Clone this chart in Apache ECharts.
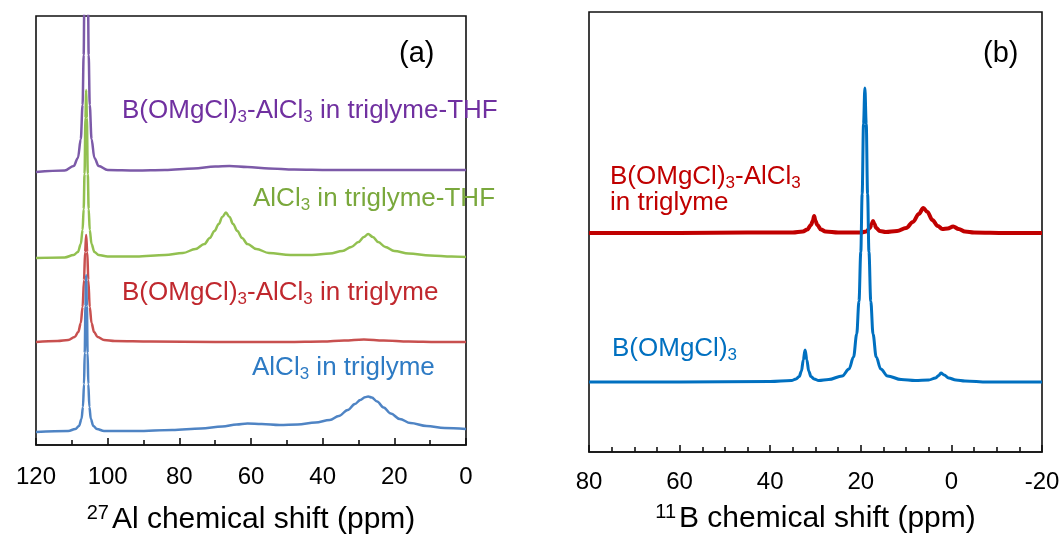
<!DOCTYPE html>
<html>
<head>
<meta charset="utf-8">
<script src="https://cdn.jsdelivr.net/npm/echarts@6/dist/echarts.min.js"></script>
<style>
  html, body { margin: 0; padding: 0; background: #fff; }
  #chart { width: 1062px; height: 537px; }
</style>
</head>
<body>
<div id="chart"></div>
<script>
// panel (a): 27Al spectra, [ppm, intensity incl. stacking offset]
const alPurple = [[120,273],[112,274.5],[109.5,279],[108.3,287],[107.5,306],[107,340],[106.7,390],[106.45,473],[106.2,606],[106,680],[105.8,606],[105.55,473],[105.3,390],[105,340],[104.5,306],[103.7,287],[102.5,279],[100,275],[92,274.5],[84,275],[76,276.5],[70,278.5],[66,279],[61,278],[55,276.5],[48,275.5],[38,275],[25,275],[12,275],[0,275]]
const alGreen = [[120,187],[112,187.5],[109.5,190],[108.3,193],[107.5,201],[107,215],[106.7,236],[106.45,271],[106.2,327],[106,355],[105.8,327],[105.55,271],[105.3,236],[105,215],[104.5,201],[103.7,193],[102.5,190],[100,188.5],[92,188.5],[84,190],[79,192],[75.5,196],[73,201],[71.5,207],[70.2,214],[69,221],[68,228],[67,232.5],[66,228],[65,221],[63.8,214],[62.5,207],[61,201],[58.5,196],[55,192],[49,190],[43,190],[38,191.5],[34.5,194],[32,198],[30,203],[28.5,208],[27.3,211],[26,208],[24.5,203],[22.5,198],[20,194],[16,191.5],[10,189.5],[4,188.5],[0,188]]
const alRed = [[120,103],[114,104],[111,105],[109.2,108],[108.2,113],[107.5,122],[107,138],[106.6,165],[106.3,193],[106,210],[105.7,193],[105.4,165],[105,138],[104.5,122],[103.8,113],[102.8,108],[101,105],[98,104],[88,103.5],[70,103],[50,103],[40,103.5],[34,104.5],[28.5,105.5],[23,104.5],[16,103.5],[8,103],[0,103]]
const alBlue = [[120,13],[111,14],[109,16],[108,19],[107.3,26],[106.9,38],[106.6,61],[106.4,92],[106.2,139],[106,170],[105.8,139],[105.6,92],[105.4,61],[105.1,38],[104.7,26],[104,19],[103,16],[101,14],[92,14],[82,15],[74,16.5],[68,18.5],[64,20.5],[61,21.5],[57,21],[52,20],[47,20.5],[42,22.5],[38,25],[35.5,29],[33,35],[31,41],[29.5,45],[28.2,47.8],[27.3,48.5],[26.3,47.5],[24.8,43.5],[23,37.5],[21,31.5],[18.5,26],[15.5,22],[11,19],[6,17],[0,16]]

// panel (b): 11B spectra
const bRed = [[80,219],[60,219],[45,219.5],[35,219.5],[32.8,220.5],[31.8,222.5],[31,227],[30.6,231],[30.3,236],[30,231],[29.6,227],[28.8,222.5],[27.8,220.5],[25,219.5],[20,219.5],[18.8,220.5],[18,224],[17.6,228],[17.3,231],[17,228],[16.6,224],[15.8,221],[14.5,220],[12,221],[10,224],[8.5,230],[7.2,238],[6.2,244],[5.3,240],[4.2,232],[3,226],[2,223],[0.8,223.5],[-0.4,225.5],[-1.6,223],[-3,220.5],[-5,219.5],[-12,219],[-20,219]]
const bBlue = [[80,70],[60,70],[40,70.5],[35.3,71.5],[34.3,73],[33.6,75.5],[33.1,81],[32.7,92],[32.3,102],[31.9,92],[31.5,81],[31,75.5],[30.3,73],[29.3,71.5],[27.1,72.5],[24.1,76],[22.6,83],[21.6,95],[20.9,118],[20.4,151],[20,200],[19.7,258],[19.4,328],[19.1,364],[18.8,328],[18.5,258],[18.2,200],[17.8,151],[17.3,118],[16.6,95],[15.6,83],[14.1,76],[11.1,72.5],[8,71.5],[5,72],[3.5,74],[2.8,76.5],[2.3,79],[1.6,77],[0.6,74],[-1,72],[-3,71],[-8,70],[-20,70]]

const FONT = 'Liberation Sans, Arial, sans-serif'

// label with subscripts written as {s|3}
function lab(text, color, x, y, size) {
  size = size || 26
  return {
    type: 'text', x: x, y: y, z: 10,
    style: {
      text: text, fill: color, fontSize: size, fontFamily: FONT,
      lineHeight: 30, verticalAlign: 'middle', align: 'left',
      rich: { s: { fontSize: 17, lineHeight: 17, verticalAlign: 'bottom', fill: color, fontFamily: FONT } }
    }
  }
}

function xAx(grid, min, max, split, margin, name, gap) {
  return {
    gridIndex: grid, type: 'value', inverse: true, min: min, max: max, interval: 20,
    axisLine: { show: true, lineStyle: { color: '#111', width: 1.6 } },
    axisTick: { show: true, inside: true, length: 7, lineStyle: { color: '#111', width: 1.6 } },
    minorTick: { show: true, splitNumber: split, length: 5, lineStyle: { color: '#111', width: 1.6 } },
    splitLine: { show: false },
    axisLabel: { fontSize: 24, color: '#000', margin: margin, fontFamily: FONT },
    name: name, nameLocation: 'middle', nameGap: gap,
    nameTextStyle: {
      fontSize: 30, color: '#000', lineHeight: 34, fontFamily: FONT,
      rich: { sup: { fontSize: 20, lineHeight: 20, verticalAlign: 'top', color: '#000', fontFamily: FONT, padding: [0, 3, 0, 0] } }
    }
  }
}

function line(name, data, color, w, xi) {
  return {
    name: name, type: 'line', data: data, xAxisIndex: xi, yAxisIndex: xi,
    symbol: 'none', smooth: 0.35, smoothMonotone: 'x', clip: true,
    lineStyle: { color: color, width: w }
  }
}

const chart = echarts.init(document.getElementById('chart'))
chart.setOption({
  animation: false,
  backgroundColor: '#fff',
  textStyle: { fontFamily: FONT },
  grid: [
    { left: 36, top: 16, width: 430, height: 429, show: true, borderColor: '#111', borderWidth: 1.6, outerBoundsMode: 'none' },
    { left: 589, top: 12, width: 453, height: 440, show: true, borderColor: '#111', borderWidth: 1.6, outerBoundsMode: 'none' }
  ],
  xAxis: [
    xAx(0, 0, 120, 2, 20, '{sup|27}Al chemical shift (ppm)', 58),
    xAx(1, -20, 80, 4, 18, '{sup|11}B chemical shift (ppm)', 50)
  ],
  yAxis: [
    { gridIndex: 0, type: 'value', min: 0, max: 429, show: false, splitLine: { show: false } },
    { gridIndex: 1, type: 'value', min: 0, max: 440, show: false, splitLine: { show: false } }
  ],
  series: [
    line('B(OMgCl)3-AlCl3 in triglyme-THF', alPurple, '#7c5aa8', 2.5, 0),
    line('AlCl3 in triglyme-THF', alGreen, '#92c050', 2.5, 0),
    line('B(OMgCl)3-AlCl3 in triglyme', alRed, '#c8504f', 2.5, 0),
    line('AlCl3 in triglyme', alBlue, '#4f84c4', 2.5, 0),
    line('B(OMgCl)3-AlCl3 in triglyme (11B)', bRed, '#c00000', 4, 1),
    line('B(OMgCl)3', bBlue, '#0070c0', 3, 1)
  ],
  graphic: [
    lab('(a)', '#000', 399, 54, 29),
    lab('(b)', '#000', 983, 54, 29),
    lab('B(OMgCl){s|3}-AlCl{s|3} in triglyme-THF', '#7030a0', 122, 111),
    lab('AlCl{s|3} in triglyme-THF', '#7aa83c', 253, 199),
    lab('B(OMgCl){s|3}-AlCl{s|3} in triglyme', '#c0282e', 122, 293),
    lab('AlCl{s|3} in triglyme', '#2e7bc4', 252, 368),
    lab('B(OMgCl){s|3}-AlCl{s|3}', '#c00000', 610, 177),
    lab('in triglyme', '#c00000', 610, 203),
    lab('B(OMgCl){s|3}', '#0070c0', 612, 349)
  ]
})
</script>
</body>
</html>
